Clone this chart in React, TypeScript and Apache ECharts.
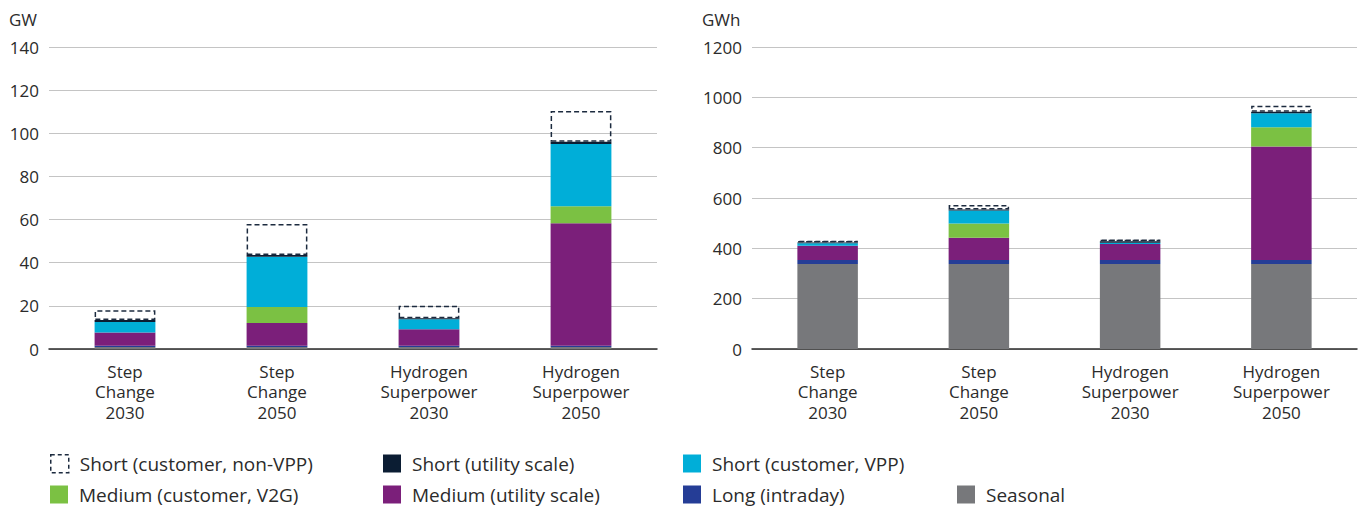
import React, { useEffect, useRef } from "react";
import * as echarts from "echarts";

const categories = [
  "Step\nChange\n2030",
  "Step\nChange\n2050",
  "Hydrogen\nSuperpower\n2030",
  "Hydrogen\nSuperpower\n2050",
];

const seriesNames = [
  "Seasonal",
  "Long (intraday)",
  "Medium (utility scale)",
  "Medium (customer, V2G)",
  "Short (customer, VPP)",
  "Short (utility scale)",
  "Short (customer, non-VPP)",
];

const seriesColors = ["#77787b", "#253d96", "#7b1f7a", "#7bc143", "#00aed8", "#0b1d33", "#ffffff"];

// GW (left chart)
const gwSeasonal = [0.9, 0.9, 0.9, 0.9];
const gwLong = [0.6, 0.6, 0.6, 0.6];
const gwMediumUtility = [6.1, 10.5, 7.6, 56.8];
const gwMediumV2G = [0, 7.5, 0, 7.9];
const gwShortVPP = [4.9, 23.3, 4.7, 28.8];
const gwShortUtility = [0.9, 0.8, 0.5, 1.1];
const gwShortNonVPP = [4.6, 14.4, 5.8, 14.2];

// GWh (right chart)
const gwhSeasonal = [338, 338, 338, 338];
const gwhLong = [16, 16, 16, 16];
const gwhMediumUtility = [56, 88, 63, 451];
const gwhMediumV2G = [0, 57, 0, 76];
const gwhShortVPP = [10, 51, 5, 56];
const gwhShortUtility = [3, 4, 6, 6];
const gwhShortNonVPP = [7, 18, 7, 24];

const gwTicks = { min: 0, max: 140, interval: 20 };
const gwhTicks = { min: 0, max: 1200, interval: 200 };

const FONT = "'Open Sans', 'Noto Sans', sans-serif";
const DASH_COLOR = "#1c2b3f";

const gwData = [gwSeasonal, gwLong, gwMediumUtility, gwMediumV2G, gwShortVPP, gwShortUtility, gwShortNonVPP];
const gwhData = [gwhSeasonal, gwhLong, gwhMediumUtility, gwhMediumV2G, gwhShortVPP, gwhShortUtility, gwhShortNonVPP];

function makeSeries(data: number[][], idx: number, stack: string) {
  return data.map((vals, i) => {
    const dashed = i === 6;
    return {
      name: seriesNames[i],
      type: "bar",
      stack,
      xAxisIndex: idx,
      yAxisIndex: idx,
      barWidth: "40%",
      data: vals,
      itemStyle: dashed
        ? { color: "rgba(255,255,255,0)", borderColor: DASH_COLOR, borderWidth: 1.5, borderType: [5, 3] }
        : { color: seriesColors[i] },
      emphasis: { disabled: true },
    };
  });
}

const legendLayout = [
  { name: "Short (customer, non-VPP)", left: 50, top: 454 },
  { name: "Short (utility scale)", left: 383, top: 454 },
  { name: "Short (customer, VPP)", left: 683, top: 454 },
  { name: "Medium (customer, V2G)", left: 50, top: 485 },
  { name: "Medium (utility scale)", left: 383, top: 485 },
  { name: "Long (intraday)", left: 683, top: 485 },
  { name: "Seasonal", left: 957, top: 485 },
];

export default function App() {
  const ref = useRef<HTMLDivElement>(null);
  useEffect(() => {
    if (!ref.current) return;
    const chart = echarts.init(ref.current, undefined, { renderer: "svg" });
    const xAxisCommon = {
      type: "category",
      data: categories,
      axisLine: { lineStyle: { color: "#2a2a2a", width: 1.5 } },
      axisTick: { show: false },
      axisLabel: { color: "#2b2b2b", fontSize: 17, lineHeight: 20.5, margin: 12, fontFamily: FONT },
    };
    const yAxisCommon = {
      type: "value",
      axisLine: { show: false },
      axisTick: { show: false },
      splitLine: { lineStyle: { color: "#c4c4c4", width: 1 } },
      axisLabel: {
        color: "#2b2b2b",
        fontSize: 17,
        margin: 10,
        fontFamily: FONT,
        formatter: (v: number) => String(v),
      },
    };
    chart.setOption({
      animation: false,
      textStyle: { fontFamily: FONT },
      grid: [
        { left: 49, top: 47, width: 608, height: 302 },
        { left: 752, top: 47, width: 605, height: 302 },
      ],
      xAxis: [
        { ...xAxisCommon, gridIndex: 0 },
        { ...xAxisCommon, gridIndex: 1 },
      ],
      yAxis: [
        { ...yAxisCommon, gridIndex: 0, ...gwTicks },
        { ...yAxisCommon, gridIndex: 1, ...gwhTicks },
      ],
      legend: legendLayout.map((l) => ({
        left: l.left,
        top: l.top,
        padding: 0,
        data: [
          l.name === "Short (customer, non-VPP)"
            ? {
                name: l.name,
                itemStyle: { color: "#ffffff", borderColor: DASH_COLOR, borderWidth: 1.5, borderType: [4, 3] },
              }
            : { name: l.name },
        ],
        itemWidth: 18,
        itemHeight: 18,
        icon: "rect",
        selectedMode: false,
        textStyle: { fontSize: 19, color: "#2b2b2b", fontFamily: FONT, padding: [0, 0, 0, 6] },
      })),
      graphic: [
        { type: "text", left: 9, top: 11, style: { text: "GW", fontSize: 17, fill: "#2b2b2b", fontFamily: FONT } },
        { type: "text", left: 702, top: 11, style: { text: "GWh", fontSize: 17, fill: "#2b2b2b", fontFamily: FONT } },
      ],
      series: [...makeSeries(gwData, 0, "gw"), ...makeSeries(gwhData, 1, "gwh")],
    });
    return () => chart.dispose();
  }, []);
  return <div ref={ref} style={{ width: 1362, height: 507, position: "absolute", left: 0, top: 0 }} />;
}
